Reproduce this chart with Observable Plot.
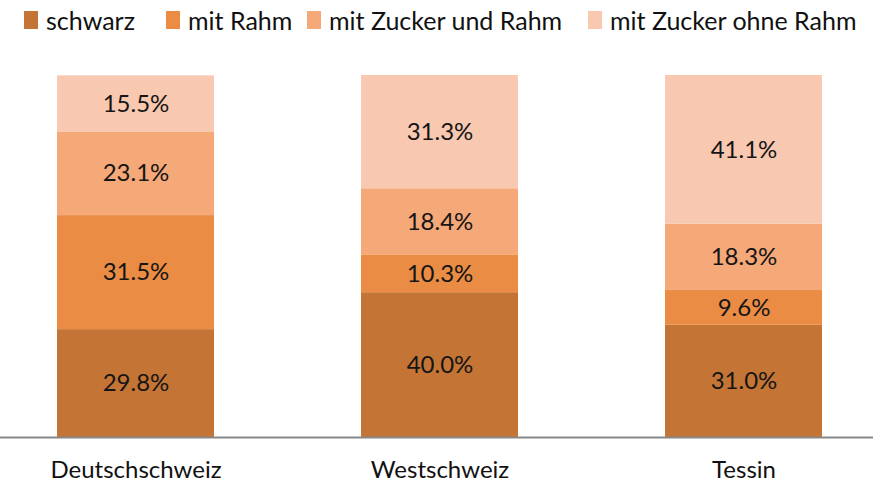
<!DOCTYPE html>
<html>
<head>
<meta charset="utf-8">
<script src="https://cdn.jsdelivr.net/npm/d3@7"></script>
<script src="https://cdn.jsdelivr.net/npm/@observablehq/plot@0.6"></script>
<style>
  html, body { margin: 0; padding: 0; background: #fff; }
  body { width: 873px; height: 493px; overflow: hidden; font-family: Lato, "Liberation Sans", sans-serif; }
  #legend { position: relative; height: 40px; font-size: 25px; color: #111; }
  .item { position: absolute; top: 5px; display: flex; align-items: center; white-space: nowrap; }
  .sw { width: 14px; height: 18px; margin-right: 8px; }
</style>
</head>
<body>
<div id="legend"></div>
<div id="chart"></div>
<script>
const regions = ["Deutschschweiz", "Westschweiz", "Tessin"];
const types = ["schwarz", "mit Rahm", "mit Zucker und Rahm", "mit Zucker ohne Rahm"];
const colors = ["#c47434", "#ea8c44", "#f5a878", "#f8c8b0"];
const schwarz = [29.8, 40.0, 31.0];
const mitRahm = [31.5, 10.3, 9.6];
const zuckerUndRahm = [23.1, 18.4, 18.3];
const zuckerOhneRahm = [15.5, 31.3, 41.1];
const series = [schwarz, mitRahm, zuckerUndRahm, zuckerOhneRahm];
const legendX = [24, 166, 307, 588];

const data = [];
types.forEach((t, i) => regions.forEach((r, j) => data.push({region: r, type: t, value: series[i][j]})));

const legend = document.getElementById("legend");
types.forEach((t, i) => {
  const d = document.createElement("div");
  d.className = "item";
  d.style.left = legendX[i] + "px";
  const s = document.createElement("span");
  s.className = "sw";
  s.style.background = colors[i];
  d.appendChild(s);
  d.appendChild(document.createTextNode(t));
  legend.appendChild(d);
});

const chart = Plot.plot({
  width: 873,
  height: 453,
  marginTop: 35,
  marginBottom: 56,
  marginLeft: 0,
  marginRight: 0,
  style: {fontFamily: "Lato, 'Liberation Sans', sans-serif", fontSize: "24px", color: "#111"},
  x: {domain: regions, range: [56, 822], paddingInner: 0.484, paddingOuter: 0, label: null, tickSize: 0, tickPadding: 23},
  y: {domain: [0, 100], axis: null},
  color: {domain: types, range: colors},
  marks: [
    Plot.barY(data, {x: "region", y: "value", z: "type", fill: "type", order: types}),
    Plot.text(data, Plot.stackY({x: "region", y: "value", z: "type", order: types, text: d => d.value.toFixed(1) + "%", fill: "#151515", fontSize: 24})),
    Plot.ruleY([0], {stroke: "#888", strokeWidth: 2})
  ]
});
document.getElementById("chart").appendChild(chart);
</script>
</body>
</html>
